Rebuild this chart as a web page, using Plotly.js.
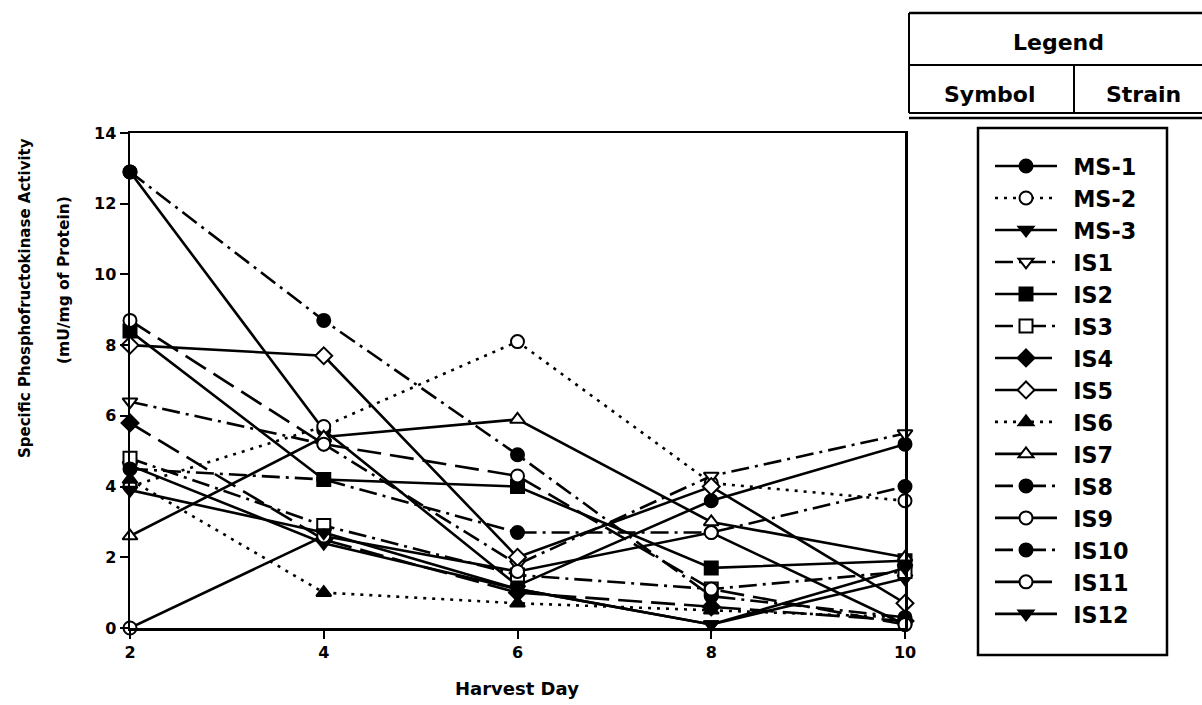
<!DOCTYPE html>
<html>
<head>
<meta charset="utf-8">
<script src="https://cdn.plot.ly/plotly-3.0.1.min.js"></script>
<style>
  html, body { margin: 0; padding: 0; background: #fff; }
  #chart { width: 1202px; height: 705px; }
</style>
</head>
<body>
<div id="chart"></div>
<script>
// Harvest days sampled
const harvestDays = [2, 4, 6, 8, 10];

// Strain names, in legend order
const strains = ["MS-1", "MS-2", "MS-3", "IS1", "IS2", "IS3", "IS4", "IS5",
                 "IS6", "IS7", "IS8", "IS9", "IS10", "IS11", "IS12"];

// Specific phosphofructokinase activity (mU/mg of protein) per strain
const ms1  = [12.9, 5.6, 1.2, 3.6, 5.2];
const ms2  = [4.0, 5.7, 8.1, 4.1, 3.6];
const ms3  = [4.6, 2.4, 1.1, 0.1, 1.4];
const is1  = [6.4, 5.2, 1.8, 4.3, 5.5];
const is2  = [8.4, 4.2, 4.0, 1.7, 1.9];
const is3  = [4.8, 2.9, 1.5, 1.1, 1.6];
const is4  = [5.8, 2.5, 1.0, 0.6, 0.2];
const is5  = [8.0, 7.7, 2.0, 4.0, 0.7];
const is6  = [4.2, 1.0, 0.7, 0.5, 0.3];
const is7  = [2.6, 5.4, 5.9, 3.0, 2.0];
const is8  = [4.5, 4.2, 2.7, 2.7, 4.0];
const is9  = [0.0, 2.6, 1.6, 2.7, 0.1];
const is10 = [12.9, 8.7, 4.9, 0.9, 0.3];
const is11 = [8.7, 5.2, 4.3, 1.1, 0.1];
const is12 = [3.9, 2.7, 1.1, 0.1, 1.7];

const seriesValues = [ms1, ms2, ms3, is1, is2, is3, is4, is5, is6, is7, is8, is9, is10, is11, is12];

// Symbol and line pattern for each strain
const symbols = ["circle", "circle-open", "triangle-down", "triangle-down-open", "square",
                 "square-open", "diamond", "diamond-open", "triangle-up", "triangle-up-open",
                 "circle", "circle-open", "circle", "circle-open", "triangle-down"];
const SOLID = "solid", DOT = "3px,6px", DASHDOT = "18px,6px,3px,6px", LONGDASH = "24px,9px";
const dashes = [SOLID, DOT, SOLID, DASHDOT, SOLID, DASHDOT, LONGDASH, SOLID,
                DOT, SOLID, DASHDOT, SOLID, DASHDOT, LONGDASH, SOLID];

const FONT = "DejaVu Sans, Verdana, sans-serif";

const traces = strains.map((name, i) => {
  const open = symbols[i].endsWith("-open");
  return {
    type: "scatter",
    mode: "lines+markers",
    name: "\u2002" + name,
    x: harvestDays,
    y: seriesValues[i],
    cliponaxis: false,
    line: { color: "#000", width: 2.6, dash: dashes[i] },
    marker: {
      symbol: open ? symbols[i].replace("-open", "") : symbols[i],
      size: 13,
      color: open ? "#fff" : "#000",
      line: { color: "#000", width: 2 }
    }
  };
});

// plot area in pixels: left 130, right 905, top 133, bottom 628
const L = 130, R = 905, T = 133, B = 628;
const px = v => (v - L) / (R - L);
const py = v => (B - v) / (B - T);

const hline = (x0, x1, y, w) => ({ type: "line", xref: "paper", yref: "paper",
  x0: px(x0), x1: px(x1), y0: py(y), y1: py(y), line: { color: "#000", width: w || 2 } });
const vline = (x, y0, y1, w) => ({ type: "line", xref: "paper", yref: "paper",
  x0: px(x), x1: px(x), y0: py(y0), y1: py(y1), line: { color: "#000", width: w || 2 } });

const shapes = [
  // header table above the legend
  hline(909, 1202, 13, 2.5),
  vline(909, 13, 113),
  hline(909, 1202, 65),
  vline(1074, 65, 113),
  hline(909, 1202, 113),
  hline(909, 1202, 118, 2.5),
  // legend frame
  { type: "rect", xref: "paper", yref: "paper", x0: px(978), x1: px(1167), y0: py(128), y1: py(655),
    line: { color: "#000", width: 2.5 } }
];

const annFont = (s) => ({ family: FONT, size: s, color: "#000", weight: "bold" });
const ann = (x, y, text, size, angle) => ({
  xref: "paper", yref: "paper", x: px(x), y: py(y), xanchor: "center", yanchor: "middle",
  text: text, showarrow: false, textangle: angle || 0, font: annFont(size)
});
const annotations = [
  ann(1058, 43, "Legend", 22),
  ann(990, 95, "Symbol", 22),
  ann(1143, 95, "Strain", 22),
  ann(25, 298, "Specific Phosphofructokinase Activity", 15, -90),
  ann(64, 280, "(mU/mg of Protein)", 15.5, -90),
  ann(517, 688, "Harvest Day", 18)
];

const axisCommon = {
  showline: true, linecolor: "#000", linewidth: 2.5, mirror: true,
  showgrid: false, zeroline: false,
  ticks: "outside", ticklen: 8, tickwidth: 2, tickcolor: "#000",
  tickfont: { family: FONT, size: 16, color: "#000", weight: "bold" }
};

const layout = {
  width: 1202, height: 705,
  paper_bgcolor: "#fff", plot_bgcolor: "#fff",
  margin: { l: L, r: 1202 - R, t: T, b: 705 - B, pad: 0 },
  xaxis: Object.assign({}, axisCommon, { range: [2, 10], tickvals: harvestDays, ticktext: harvestDays.map(String) }),
  yaxis: Object.assign({}, axisCommon, { range: [0, 14], tickvals: [0, 2, 4, 6, 8, 10, 12, 14] }),
  showlegend: true,
  legend: {
    x: px(990), y: py(145), xanchor: "left", yanchor: "top",
    bgcolor: "rgba(0,0,0,0)", borderwidth: 0,
    itemwidth: 62, maxheight: 650,
    font: { family: FONT, size: 22.3, color: "#000", weight: "bold" }
  },
  shapes: shapes,
  annotations: annotations
};

Plotly.newPlot("chart", traces, layout, { staticPlot: true, displayModeBar: false });
</script>
</body>
</html>
